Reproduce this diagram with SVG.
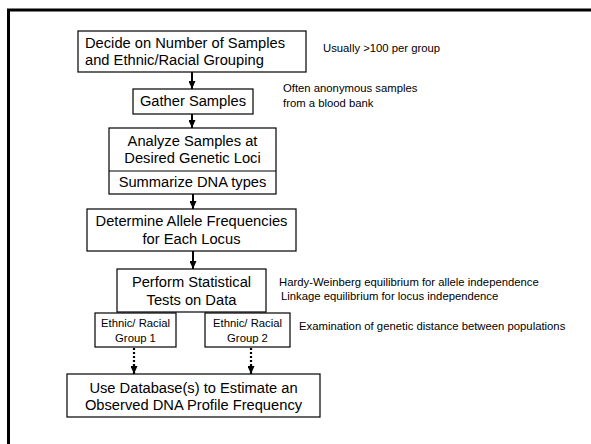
<svg xmlns="http://www.w3.org/2000/svg" width="591" height="444" viewBox="0 0 591 444">
  <style>
    .box { fill: #ffffff; stroke: #000000; stroke-width: 1.2; }
    .big { font-family: "Liberation Sans", Arial, sans-serif; font-size: 14.7px; fill: #000000; }
    .mid { font-family: "Liberation Sans", Arial, sans-serif; font-size: 11.3px; fill: #000000; }
    .note { font-family: "Liberation Sans", Arial, sans-serif; font-size: 11.3px; fill: #000000; }
    .flow { stroke: #000000; stroke-width: 2; fill: none; }
    .dotted { stroke: #000000; stroke-width: 2.2; fill: none; stroke-dasharray: 2 2; }
  </style>
  <defs>
    <marker id="head" viewBox="0 0 8 7" refX="8" refY="3.5" markerWidth="8" markerHeight="7" markerUnits="userSpaceOnUse" orient="auto">
      <path d="M0 0 L8 3.5 L0 7 Z" fill="#000000"/>
    </marker>
  </defs>

  <rect width="591" height="444" fill="#ffffff"/>

  <!-- slide frame -->
  <path d="M8.5 444 V10 H591" fill="none" stroke="#000000" stroke-width="3"/>

  <g id="connectors">
    <line class="flow" x1="192" y1="72" x2="192" y2="89" marker-end="url(#head)"/>
    <line class="flow" x1="192" y1="114" x2="192" y2="128" marker-end="url(#head)"/>
    <line class="flow" x1="193" y1="194" x2="193" y2="209" marker-end="url(#head)"/>
    <line class="flow" x1="193" y1="251" x2="193" y2="269" marker-end="url(#head)"/>
    <line class="dotted" x1="134" y1="348" x2="134" y2="374" marker-end="url(#head)"/>
    <line class="dotted" x1="251" y1="348" x2="251" y2="374" marker-end="url(#head)"/>
  </g>

  <g id="decide">
    <rect class="box" x="78" y="31" width="228" height="41"/>
    <text class="big" x="85" y="48">Decide on Number of Samples</text>
    <text class="big" x="85" y="65">and Ethnic/Racial Grouping</text>
  </g>

  <g id="gather">
    <rect class="box" x="133" y="89" width="120" height="25"/>
    <text class="big" x="193" y="106" text-anchor="middle">Gather Samples</text>
  </g>

  <g id="analyze">
    <rect class="box" x="109" y="128" width="167" height="66"/>
    <line class="box" x1="109" y1="171" x2="276" y2="171"/>
    <text class="big" x="192.5" y="146" text-anchor="middle">Analyze Samples at</text>
    <text class="big" x="192.5" y="163" text-anchor="middle">Desired Genetic Loci</text>
    <text class="big" x="192.5" y="187" text-anchor="middle">Summarize DNA types</text>
  </g>

  <g id="allele">
    <rect class="box" x="87" y="209" width="209" height="42"/>
    <text class="big" x="191.5" y="226" text-anchor="middle">Determine Allele Frequencies</text>
    <text class="big" x="191.5" y="244" text-anchor="middle">for Each Locus</text>
  </g>

  <g id="stats">
    <rect class="box" x="117" y="269" width="149" height="43"/>
    <text class="big" x="191.5" y="287" text-anchor="middle">Perform Statistical</text>
    <text class="big" x="191.5" y="305" text-anchor="middle">Tests on Data</text>
  </g>

  <g id="group1">
    <rect class="box" x="95" y="313" width="81" height="34"/>
    <text class="mid" x="135.5" y="327" text-anchor="middle">Ethnic/ Racial</text>
    <text class="mid" x="135.5" y="342" text-anchor="middle">Group 1</text>
  </g>

  <g id="group2">
    <rect class="box" x="205" y="313" width="85" height="34"/>
    <text class="mid" x="247.5" y="327" text-anchor="middle">Ethnic/ Racial</text>
    <text class="mid" x="247.5" y="342" text-anchor="middle">Group 2</text>
  </g>

  <g id="database">
    <rect class="box" x="67" y="374" width="253" height="43"/>
    <text class="big" x="193.5" y="393" text-anchor="middle">Use Database(s) to Estimate an</text>
    <text class="big" x="193.5" y="410" text-anchor="middle">Observed DNA Profile Frequency</text>
  </g>

  <g id="notes">
    <text class="note" x="323" y="52">Usually &gt;100 per group</text>
    <text class="note" x="283" y="92">Often anonymous samples</text>
    <text class="note" x="283" y="107">from a blood bank</text>
    <text class="note" x="279" y="286">Hardy-Weinberg equilibrium for allele independence</text>
    <text class="note" x="281" y="300">Linkage equilibrium for locus independence</text>
    <text class="note" x="299" y="330">Examination of genetic distance between populations</text>
  </g>
</svg>
